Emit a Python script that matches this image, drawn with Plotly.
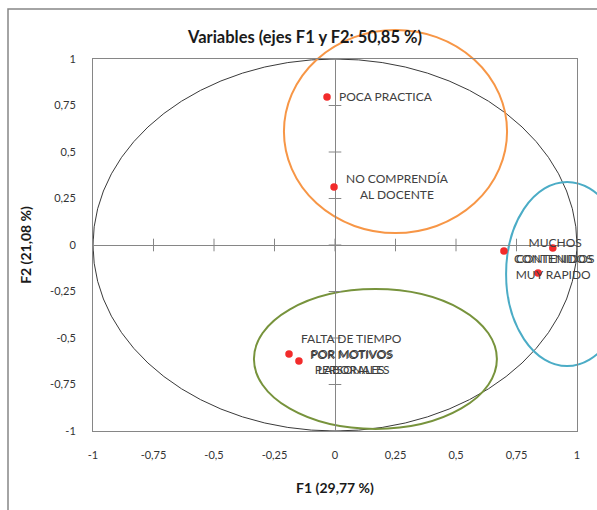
import plotly.graph_objects as go

# ---- data ----
labels = [
    "POCA PRACTICA",
    "NO COMPRENDÍA<br>AL DOCENTE",
    "MUCHOS<br>CONTENIDOS",
    "CONTENIDOS<br>MUY RAPIDO",
    "",
    "FALTA DE TIEMPO<br>POR MOTIVOS<br>LABORALES",
    "POR MOTIVOS<br>PERSONALES",
]
f1 = [-0.033, -0.004, 0.698, 0.900, 0.839, -0.190, -0.149]
f2 = [0.796, 0.312, -0.032, -0.016, -0.150, -0.586, -0.624]

tick_vals = [-1, -0.75, -0.5, -0.25, 0, 0.25, 0.5, 0.75, 1]
tick_text = ["-1", "-0,75", "-0,5", "-0,25", "0", "0,25", "0,5", "0,75", "1"]

title_text = "Variables (ejes F1 y F2: 50,85 %)"
x_title = "F1 (29,77 %)"
y_title = "F2 (21,08 %)"

# group ellipses (centre x, centre y, radius x, radius y) in F1/F2 units
ellipse_cx = [0.0, 0.25, 0.167, 0.959]
ellipse_cy = [0.0, 0.61, -0.613, -0.156]
ellipse_rx = [1.0, 0.461, 0.502, 0.252]
ellipse_ry = [1.0, 0.546, 0.376, 0.495]
ellipse_col = ["#3a3a3a", "#F79646", "#77933C", "#4BACC6"]
ellipse_w = [1, 2, 2, 2]

# label placement per point: 'right' or 'below'
placement = ["right", "right", "right", "below", "right", "right", "right"]

# ---- figure ----
W, H = 597, 510
ML, MR, MT, MB = 93, 20, 59, 79
XR = [-1, 1]
YR = [-1, 1]

def px(x):
    return (x - XR[0]) / (XR[1] - XR[0])

def py(y):
    return (y - YR[0]) / (YR[1] - YR[0])

FONT = "Lato, 'Open Sans', sans-serif"
GRAY = "#868686"
TXT = "#404040"

fig = go.Figure()

# tick marks crossing the zero axes
fig.add_trace(go.Scatter(
    x=tick_vals, y=[0] * len(tick_vals), mode="markers",
    marker=dict(symbol="line-ns", size=9, line=dict(color=GRAY, width=1)),
    hoverinfo="skip", showlegend=False, cliponaxis=False))
fig.add_trace(go.Scatter(
    x=[0] * len(tick_vals), y=tick_vals, mode="markers",
    marker=dict(symbol="line-ew", size=9, line=dict(color=GRAY, width=1)),
    hoverinfo="skip", showlegend=False, cliponaxis=False))

# points
fig.add_trace(go.Scatter(
    x=f1, y=f2, mode="markers",
    marker=dict(color="#F22B2B", size=7.5),
    text=[l.replace("<br>", " ") for l in labels],
    hoverinfo="text", showlegend=False, cliponaxis=False))

# labels
for lab, x, y, pl in zip(labels, f1, f2, placement):
    if not lab:
        continue
    if pl == "right":
        fig.add_annotation(x=x, y=y, text=lab, showarrow=False,
                           xanchor="left", yanchor="middle", xshift=10,
                           align="center",
                           font=dict(family=FONT, size=12, color=TXT))
    else:
        fig.add_annotation(x=x, y=y, text=lab, showarrow=False,
                           xanchor="center", yanchor="top", yshift=-1,
                           align="center",
                           font=dict(family=FONT, size=12, color=TXT))

# ellipses (paper referenced so they are not clipped by the plot area)
for cx, cy, rx, ry, c, w in zip(ellipse_cx, ellipse_cy, ellipse_rx, ellipse_ry, ellipse_col, ellipse_w):
    fig.add_shape(type="circle", xref="paper", yref="paper",
                  x0=px(cx - rx), x1=px(cx + rx), y0=py(cy - ry), y1=py(cy + ry),
                  line=dict(color=c, width=w), layer="below")

# chart outer border (extends beyond the visible window)
pw = W - ML - MR
ph = H - MT - MB
fig.add_shape(type="rect", xref="paper", yref="paper",
              x0=(8 - ML) / pw, x1=1.6, y0=-0.6, y1=(H - MB - 9) / ph,
              line=dict(color=GRAY, width=1.5), layer="below")

axis_common = dict(
    tickvals=tick_vals, ticktext=tick_text,
    showgrid=False, zeroline=True, zerolinecolor=GRAY, zerolinewidth=1,
    showline=True, mirror=True, linecolor=GRAY, linewidth=1,
    ticks="", tickfont=dict(family=FONT, size=11, color="#333333"),
    fixedrange=True,
)

fig.update_layout(
    width=W, height=H, autosize=False,
    margin=dict(l=ML, r=MR, t=MT, b=MB),
    paper_bgcolor="white", plot_bgcolor="rgba(0,0,0,0)",
    title=dict(text="<b>" + title_text + "</b>", x=305 / W, xref="container",
               xanchor="center", y=1 - 37 / H, yref="container", yanchor="middle",
               font=dict(family=FONT, size=16.5, color="#1a1a1a")),
    xaxis=dict(range=XR, ticklabelstandoff=14,
               title=dict(text="<b>" + x_title + "</b>", standoff=22,
                          font=dict(family=FONT, size=14, color="#1a1a1a")),
               **axis_common),
    yaxis=dict(range=YR, ticklabelstandoff=14,
               title=dict(text="<b>" + y_title + "</b>", standoff=15,
                          font=dict(family=FONT, size=14, color="#1a1a1a")),
               **axis_common),
    showlegend=False,
)

fig.write_html("out.html")
